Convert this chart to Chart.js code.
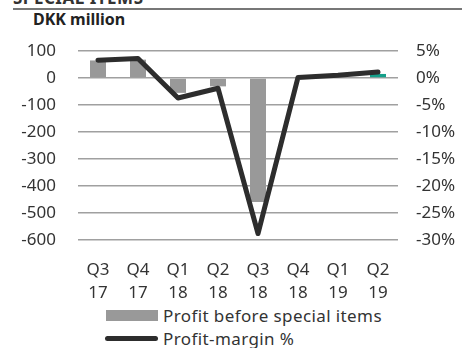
<!DOCTYPE html>
<html lang="en">
<head>
    <meta charset="UTF-8">
    <title>Profit before special items</title>
    <style>
        body {
            margin: 0;
            background: #ffffff;
            font-family: "Noto Sans", sans-serif;
            color: #333333;
        }

        .wrap {
            position: relative;
            width: 462px;
            height: 348px;
            overflow: hidden;
        }

        .section-title {
            position: absolute;
            left: 13px;
            top: -14px;
            font-size: 17px;
            font-weight: bold;
            color: #333;
            letter-spacing: 0.5px;
        }

        .rule {
            position: absolute;
            left: 13px;
            right: 0;
            top: 8px;
            height: 2px;
            background: #777;
        }

        .unit {
            position: absolute;
            left: 33px;
            top: 8px;
            font-size: 16px;
            font-weight: bold;
            color: #222;
        }

        canvas {
            position: absolute;
            left: 0;
            top: 0;
        }

        .legend {
            position: absolute;
            left: 105px;
            top: 304px;
            font-size: 17px;
            letter-spacing: 0.4px;
            color: #333;
        }

        .legend div {
            display: flex;
            align-items: center;
            height: 23px;
        }

        .swatch-bar {
            width: 52px;
            height: 11px;
            background: #999999;
            margin-right: 5px;
            margin-left: 1px;
        }

        .swatch-line {
            width: 53px;
            height: 5px;
            border-radius: 3px;
            background: #2d2d2d;
            margin-right: 5px;
        }
    </style>
</head>
<body>
    <div class="wrap">
        <div class="section-title">SPECIAL ITEMS</div>
        <div class="rule"></div>
        <div class="unit">DKK million</div>
        <canvas id="chart" width="462" height="300"></canvas>
        <div class="legend">
            <div><span class="swatch-bar"></span>Profit before special items</div>
            <div><span class="swatch-line"></span>Profit-margin %</div>
        </div>
    </div>

    <script src="https://cdn.jsdelivr.net/npm/chart.js"></script>
    <script>
        const quarters = [['Q3', '17'], ['Q4', '17'], ['Q1', '18'], ['Q2', '18'],
                          ['Q3', '18'], ['Q4', '18'], ['Q1', '19'], ['Q2', '19']];
        const profitBeforeSpecial = [65, 68, -55, -31, -459, 1, 2, 15];
        const profitMargin = [3.3, 3.6, -3.7, -1.9, -28.8, 0.1, 0.5, 1.1];
        const barColors = ['#999999', '#999999', '#999999', '#999999',
                           '#999999', '#999999', '#999999', '#14a08a'];

        const tickFont = { family: '"Noto Sans", sans-serif', size: 17 };

        const ctx = document.getElementById('chart').getContext('2d');
        const chart = new Chart(ctx, {
            data: {
                labels: quarters,
                datasets: [
                    {
                        type: 'line',
                        label: 'Profit-margin %',
                        data: profitMargin,
                        yAxisID: 'pct',
                        borderColor: '#2d2d2d',
                        borderWidth: 5,
                        pointRadius: 0,
                        borderCapStyle: 'round',
                        borderJoinStyle: 'round',
                        tension: 0,
                        order: 0
                    },
                    {
                        type: 'bar',
                        label: 'Profit before special items',
                        data: profitBeforeSpecial,
                        yAxisID: 'dkk',
                        backgroundColor: barColors,
                        barPercentage: 0.4,
                        categoryPercentage: 1,
                        order: 1
                    }
                ]
            },
            options: {
                responsive: false,
                animation: false,
                layout: { padding: { top: 51, left: 0, right: 0, bottom: 0 } },
                plugins: {
                    legend: { display: false },
                    tooltip: { enabled: false }
                },
                scales: {
                    x: {
                        grid: { display: false },
                        border: { display: false },
                        ticks: {
                            color: '#333',
                            font: { ...tickFont, lineHeight: 1.35 },
                            padding: 11,
                            maxRotation: 0
                        },
                        // fixed axis sizes keep the plot at 78..398 x 51..240
                        afterFit: s => { s.height = 60; }
                    },
                    dkk: {
                        position: 'left',
                        min: -600,
                        max: 100,
                        grid: { color: '#a0a0a0', lineWidth: 1.5, drawTicks: false },
                        border: { display: false },
                        ticks: { stepSize: 100, color: '#333', font: tickFont, padding: 22 },
                        afterFit: s => { s.width = 78; }
                    },
                    pct: {
                        position: 'right',
                        min: -30,
                        max: 5,
                        grid: { display: false, drawTicks: false },
                        border: { display: false },
                        ticks: {
                            stepSize: 5,
                            color: '#333',
                            font: tickFont,
                            padding: 18,
                            callback: v => v + '%'
                        },
                        afterFit: s => { s.width = 64; }
                    }
                }
            }
        });
    </script>
</body>
</html>
